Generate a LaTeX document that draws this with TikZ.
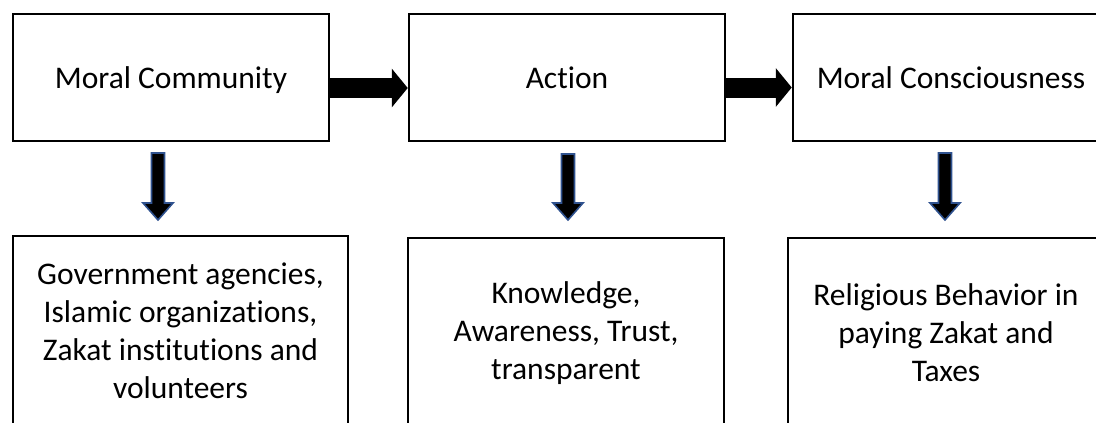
\documentclass[tikz,border=0pt]{standalone}
\usepackage{fontspec}
\setmainfont{Carlito}[Ligatures=NoCommon]
\usetikzlibrary{arrows.meta,calc}
\definecolor{arrowblue}{RGB}{47,82,143}

\begin{document}
\begin{tikzpicture}[x=1pt,y=1pt,
   box/.style={draw,line width=2.5pt,minimum width=316pt,minimum height=127pt,
      inner sep=0pt,align=center,font=\fontsize{31.5}{38}\selectfont},
   lowbox/.style={box,minimum height=190pt},
   fatarrow/.style={line width=20pt,-{Triangle[length=16pt,width=38pt]}},
   downarrow/.style={draw=arrowblue,line width=1.6pt,fill=black,
      to path={($(\tikztostart)+(-6.5,0)$) -- ($(\tikztotarget)+(-6.5,17)$)
         -- ($(\tikztotarget)+(-15,17)$) -- (\tikztotarget)
         -- ($(\tikztotarget)+(15,17)$) -- ($(\tikztotarget)+(6.5,17)$)
         -- ($(\tikztostart)+(6.5,0)$) -- cycle}}]
\useasboundingbox (0,0) rectangle (1096,-423);
\clip (0,0) rectangle (1096,-423);

\node[box,text depth=0pt] (community) at (171,-77.5) {Moral Community};
\node[box,text depth=0pt] (action) at (567,-77.5) {Action};
\node[box,text depth=0pt] (consciousness) at (951,-77.5) {Moral Consciousness};

\node[lowbox,minimum width=335pt] (agents) at (180.5,-331)
   {Government agencies,\\ Islamic organizations,\\ Zakat institutions and\\ volunteers};
\node[lowbox] (values) at (566,-333) {Knowledge,\\ Awareness, Trust,\\ transparent};
\node[lowbox] (behavior) at (946,-333) {Religious Behavior in\\ paying Zakat and\\ Taxes};

\draw[fatarrow] ([yshift=-10.5pt]community.east) -- ([yshift=-10.5pt]action.west);
\draw[fatarrow] ([yshift=-10pt]action.east) -- ([yshift=-10pt]consciousness.west);

\coordinate (c1) at (158,-153);
\coordinate (a1) at (158,-220);
\coordinate (c2) at (568,-154);
\coordinate (a2) at (568,-220);
\coordinate (c3) at (945,-153);
\coordinate (a3) at (945,-220);
\draw[downarrow] (c1) to (a1);
\draw[downarrow] (c2) to (a2);
\draw[downarrow] (c3) to (a3);
\end{tikzpicture}
\end{document}
